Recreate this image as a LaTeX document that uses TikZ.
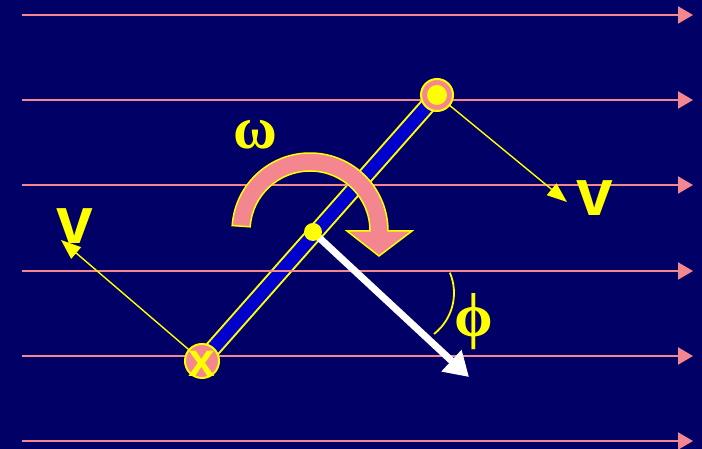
\documentclass[tikz,border=0pt]{standalone}
\usepackage{fontspec}
\setmainfont{Liberation Serif}
\setsansfont{Liberation Sans}
\usepackage{tikz}
\usetikzlibrary{arrows.meta,calc}
\definecolor{fondo}{HTML}{000066}
\definecolor{rosa}{HTML}{F4868F}
\definecolor{amarillo}{HTML}{FFFF00}
\definecolor{barra}{HTML}{0000CC}

\begin{document}
\begin{tikzpicture}[x=1pt,y=1pt, field/.style={rosa,line width=2.2pt,-{Triangle[length=15pt,width=17pt]}}, vel/.style={amarillo,line width=1.4pt,-{Triangle[length=20pt,width=15pt]}}, lbl/.style={text=amarillo,inner sep=0pt}]
\fill[fondo] (0,0) rectangle (702,449);
\useasboundingbox (0,0) rectangle (702,449);
\coordinate (bot) at (202,88); \coordinate (top) at (437,354); \coordinate (cen) at (313,217);
\coordinate (rot) at (310,218);
% barra
\draw[amarillo,line width=17pt] (bot) -- (top);
\draw[barra,line width=13pt] (bot) -- (top);
% campo
\foreach \yy [count=\i] in {434,349,264,178,93,8} {
  \coordinate (l\i a) at (22,\yy); \coordinate (l\i b) at (693,\yy);
  \draw[field] (l\i a) -- (l\i b);
}
% velocidades
\coordinate (vtop) at (567,247); \coordinate (vbot) at (61,209);
\draw[vel] (top) -- (vtop);
\draw[vel] (bot) -- (vbot);
% omega
\fill[rosa,draw=amarillo,line width=1.5pt] ($(rot)+(176:78)$) arc[start angle=176,end angle=0,radius=78] -- (412,218) -- (379,193) -- (347,218) -- ($(rot)+(0:60)$) arc[start angle=0,end angle=176,radius=60] -- cycle;
% eje y angulo
\coordinate (tip) at (469,72);
\draw[white,line width=7pt,-{Triangle[length=24pt,width=28pt]}] (cen) -- (tip);
\draw[amarillo,line width=1.8pt] ($(402,156)+(23:52)$) arc[start angle=23,end angle=-52,radius=52];
% extremos
\draw[fill=rosa,draw=amarillo,line width=2pt] (top) circle[radius=16];
\fill[amarillo] (top) circle[radius=10];
\draw[fill=rosa,draw=amarillo,line width=2pt] (bot) circle[radius=17];
\node[lbl,font=\sffamily\bfseries\fontsize{48}{48}\selectfont] (xlbl) at (202,85) {x};
\fill[amarillo] (cen) circle[radius=9];
% etiquetas
\node[lbl,font=\bfseries\fontsize{60}{60}\selectfont] (wlbl) at (255,314) {ω};
\node[lbl,font=\bfseries\fontsize{62}{62}\selectfont] (philbl) at (474,127) {ϕ};
\node[lbl,font=\sffamily\bfseries\fontsize{66}{66}\selectfont] (vright) at (595,251) {v};
\node[lbl,font=\sffamily\bfseries\fontsize{66}{66}\selectfont] (vleft) at (75,223) {v};
\end{tikzpicture}
\end{document}
